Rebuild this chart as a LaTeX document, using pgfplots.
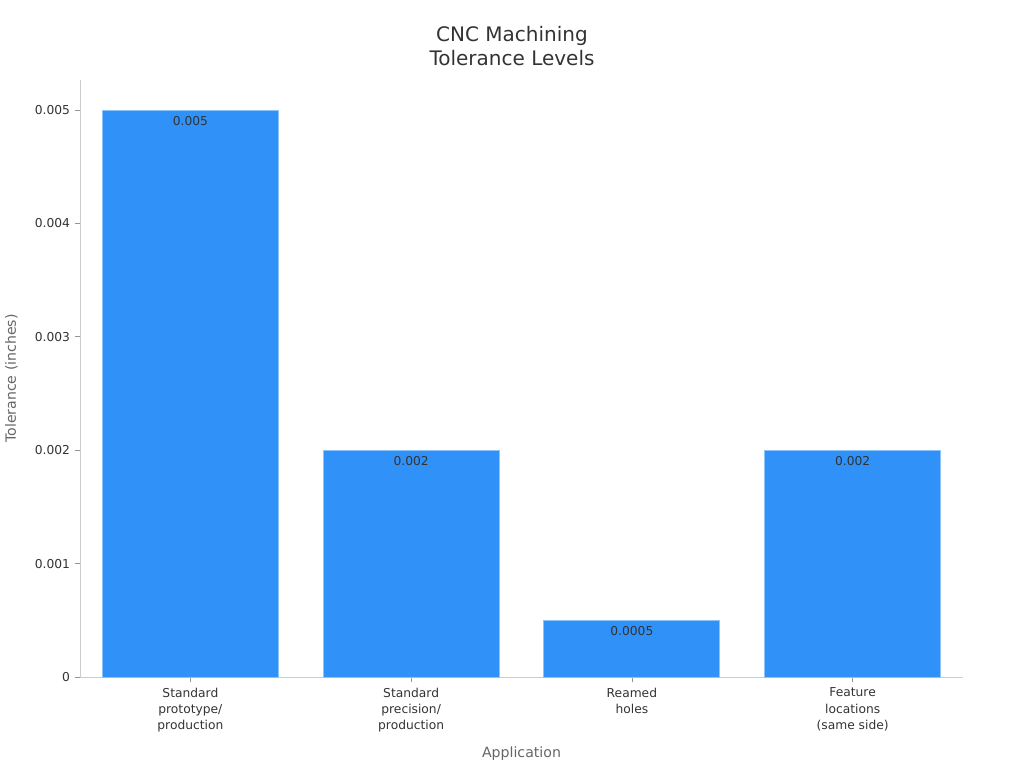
\documentclass[border=0pt]{standalone}
\usepackage{pgfplots}
\pgfplotsset{compat=1.18}
\usepackage{fontspec}
\setmainfont{DejaVu Sans}
\definecolor{barblue}{RGB}{48,146,248}
\definecolor{baredge}{RGB}{140,195,250}
\definecolor{txt}{RGB}{51,51,51}
\definecolor{lab}{RGB}{102,102,102}
\definecolor{spine}{RGB}{204,204,204}
\begin{document}
\begin{tikzpicture}[x=0.75pt,y=0.75pt]
\path (0,0) rectangle (1024,768);
\node[font=\fontsize{15}{17.5}\selectfont, text=txt, align=center] at (512,722) {CNC Machining\\[0.5pt]Tolerance Levels};
\begin{axis}[
  at={(60pt,68.25pt)}, anchor=south west,
  scale only axis, width=662.25pt, height=447.75pt,
  xmin=-0.5, xmax=3.5, ymin=0, ymax=0.005265,
  axis lines=left, axis line style={spine, -},
  tick align=outside, tick style={color=lab!70, line width=0.5pt}, major tick length=4pt,
  scaled y ticks=false,
  xtick={0,1,2,3},
  xticklabels={{Standard\\prototype/\\production},{Standard\\precision/\\production},{Reamed\\holes},{Feature\\locations\\(same side)}},
  xticklabel style={align=center, font=\fontsize{9.2}{12.3}\selectfont, text=txt, yshift=-0.5pt},
  ytick={0,0.001,0.002,0.003,0.004,0.005},
  yticklabels={0,0.001,0.002,0.003,0.004,0.005},
  yticklabel style={font=\fontsize{9.2}{10}\selectfont, text=txt},
  xlabel={Application}, ylabel={Tolerance (inches)},
  xlabel style={font=\fontsize{10.6}{12}\selectfont, text=lab, yshift=-4pt},
  ylabel style={font=\fontsize{10.6}{12}\selectfont, text=lab, yshift=6pt},
  ybar, bar width=132pt,
  nodes near coords, point meta=explicit symbolic,
  every node near coord/.append style={anchor=north, yshift=-1pt, font=\fontsize{9.2}{10}\selectfont, text=txt},
  clip=false,
]
\addplot[fill=barblue, draw=baredge, line width=0.6pt] coordinates {(0,0.005)[0.005] (1,0.002)[0.002] (2,0.0005)[0.0005] (3,0.002)[0.002]};
\end{axis}
\end{tikzpicture}
\end{document}
